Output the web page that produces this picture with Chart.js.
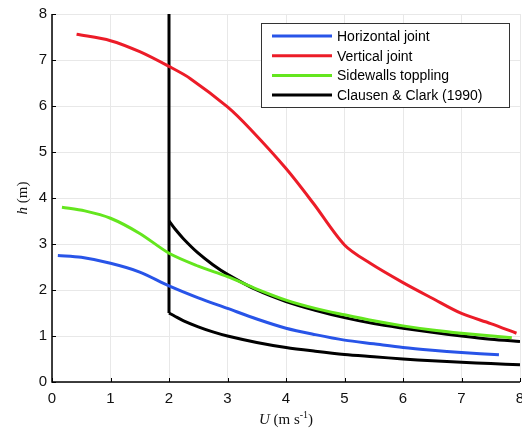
<!DOCTYPE html>
<html>
<head>
<meta charset="utf-8">
<script src="https://cdn.jsdelivr.net/npm/chart.js@4.4.1/dist/chart.umd.min.js"></script>
<style>
  html, body { margin: 0; padding: 0; background: #fff; }
  #wrap { width: 522px; height: 434px; position: relative; }
</style>
</head>
<body>
<div id="wrap"><canvas id="hChart" width="522" height="434"></canvas></div>
<script>
// values: U (m s-1) and h (m)
const horizU = [0.1, 0.5, 1.0, 1.5, 2.0, 2.5, 3.0, 3.5, 4.0, 4.5, 5.0, 5.5, 6.0, 6.5, 7.0, 7.64];
const horizH = [2.75, 2.71, 2.58, 2.39, 2.09, 1.83, 1.60, 1.37, 1.17, 1.03, 0.91, 0.83, 0.75, 0.69, 0.64, 0.59];

const vertU = [0.42, 1.0, 1.5, 2.0, 2.36, 3.0, 3.38, 4.0, 4.47, 5.0, 5.44, 6.0, 6.5, 7.0, 7.5, 7.94];
const vertH = [7.56, 7.42, 7.18, 6.86, 6.60, 5.98, 5.51, 4.64, 3.88, 2.98, 2.58, 2.16, 1.82, 1.49, 1.27, 1.06];

const wallU = [0.17, 0.56, 1.0, 1.5, 2.0, 2.5, 3.0, 3.5, 4.0, 4.5, 5.0, 5.5, 6.0, 6.5, 7.0, 7.86];
const wallH = [3.80, 3.72, 3.56, 3.23, 2.80, 2.52, 2.29, 2.02, 1.78, 1.60, 1.46, 1.33, 1.22, 1.13, 1.06, 0.96];

const ccUpperU = [2.0, 2.1, 2.25, 2.5, 2.75, 3.0, 3.5, 4.0, 4.5, 5.0, 5.5, 6.0, 6.5, 7.0, 7.5, 8.0];
const ccUpperH = [3.50, 3.33, 3.11, 2.80, 2.55, 2.34, 2.00, 1.75, 1.56, 1.40, 1.27, 1.17, 1.08, 1.00, 0.93, 0.88];
const ccLowerU = [2.0, 2.1, 2.25, 2.5, 2.75, 3.0, 3.5, 4.0, 4.5, 5.0, 5.5, 6.0, 6.5, 7.0, 7.5, 8.0];
const ccLowerH = [1.50, 1.43, 1.33, 1.20, 1.09, 1.00, 0.86, 0.75, 0.67, 0.60, 0.55, 0.50, 0.46, 0.43, 0.40, 0.375];
const ccWallU = [2.0, 2.0];
const ccWallH = [8.0, 1.5];

const xTicks = [0, 1, 2, 3, 4, 5, 6, 7, 8];
const yTicks = [0, 1, 2, 3, 4, 5, 6, 7, 8];

function pts(us, hs) {
    return us.map((u, i) => ({ x: u, y: hs[i] }));
}

function series(label, us, hs, color, inLegend) {
    return {
        label: label,
        data: pts(us, hs),
        borderColor: color,
        backgroundColor: color,
        borderWidth: 3,
        pointRadius: 0,
        tension: 0.3,
        fill: false,
        inLegend: inLegend
    };
}

// legend box, axis titles and inward tick marks, drawn the MATLAB way
const figureExtras = {
    id: 'figureExtras',
    afterDraw(chart) {
        const ctx = chart.ctx;
        const area = chart.chartArea;
        const xs = chart.scales.x, ys = chart.scales.y;

        // axis lines + inward ticks
        ctx.save();
        ctx.strokeStyle = '#000';
        ctx.lineWidth = 1.5;
        ctx.beginPath();
        ctx.moveTo(area.left, area.top);
        ctx.lineTo(area.left, area.bottom);
        ctx.lineTo(area.right, area.bottom);
        ctx.stroke();
        ctx.lineWidth = 1;
        ctx.beginPath();
        xTicks.forEach(v => {
            const px = Math.round(xs.getPixelForValue(v)) + 0.5;
            ctx.moveTo(px, area.bottom);
            ctx.lineTo(px, area.bottom - 4);
        });
        yTicks.forEach(v => {
            const py = Math.round(ys.getPixelForValue(v)) + 0.5;
            ctx.moveTo(area.left, py);
            ctx.lineTo(area.left + 4, py);
        });
        ctx.stroke();

        // x title: U (m s-1)
        ctx.fillStyle = '#111';
        ctx.textBaseline = 'alphabetic';
        const serif = '"Liberation Serif", "DejaVu Serif", serif';
        const parts = [
            { t: 'U', f: 'italic 15px ' + serif, dy: 0 },
            { t: ' (m s', f: '15px ' + serif, dy: 0 },
            { t: '-1', f: '10px ' + serif, dy: -6 },
            { t: ')', f: '15px ' + serif, dy: 0 }
        ];
        let total = 0;
        parts.forEach(p => { ctx.font = p.f; p.w = ctx.measureText(p.t).width; total += p.w; });
        let cx = 286 - total / 2;
        const baseY = 424;
        parts.forEach(p => {
            ctx.font = p.f;
            ctx.fillText(p.t, cx, baseY + p.dy);
            cx += p.w;
        });

        // y title: h (m)
        ctx.save();
        ctx.translate(27, 198);
        ctx.rotate(-Math.PI / 2);
        const yParts = [
            { t: 'h', f: 'italic 15px ' + serif },
            { t: ' (m)', f: '15px ' + serif }
        ];
        let yTotal = 0;
        yParts.forEach(p => { ctx.font = p.f; p.w = ctx.measureText(p.t).width; yTotal += p.w; });
        let yx = -yTotal / 2;
        yParts.forEach(p => {
            ctx.font = p.f;
            ctx.fillText(p.t, yx, 0);
            yx += p.w;
        });
        ctx.restore();

        // legend box
        const entries = chart.data.datasets.filter(d => d.inLegend);
        const bx = 261, by = 23, bw = 248, bh = 84;
        ctx.fillStyle = '#fff';
        ctx.fillRect(bx, by, bw, bh);
        ctx.strokeStyle = '#333';
        ctx.lineWidth = 1;
        ctx.strokeRect(bx + 0.5, by + 0.5, bw, bh);
        ctx.font = '14px "Liberation Sans", Arial, sans-serif';
        ctx.textBaseline = 'middle';
        entries.forEach((d, i) => {
            const ry = 36 + i * 19.7;
            ctx.strokeStyle = d.borderColor;
            ctx.lineWidth = 3;
            ctx.beginPath();
            ctx.moveTo(272, ry);
            ctx.lineTo(332, ry);
            ctx.stroke();
            ctx.fillStyle = '#000';
            ctx.fillText(d.label, 337, ry + 1);
        });
        ctx.restore();
    }
};

function createChart() {
    const ctx = document.getElementById('hChart').getContext('2d');
    new Chart(ctx, {
        type: 'line',
        data: {
            datasets: [
                series('Horizontal joint', horizU, horizH, 'rgb(40, 84, 232)', true),
                series('Vertical joint', vertU, vertH, 'rgb(236, 28, 40)', true),
                series('Sidewalls toppling', wallU, wallH, 'rgb(100, 230, 30)', true),
                series('Clausen & Clark (1990)', ccWallU, ccWallH, '#000', true),
                series('Clausen & Clark (1990)', ccUpperU, ccUpperH, '#000', false),
                series('Clausen & Clark (1990)', ccLowerU, ccLowerH, '#000', false)
            ]
        },
        options: {
            responsive: false,
            animation: false,
            layout: { padding: { top: 14, right: 2, left: 0, bottom: 0 } },
            scales: {
                x: {
                    type: 'linear',
                    min: 0,
                    max: 8,
                    afterFit: s => { s.height = 52; s.paddingLeft = 0; s.paddingRight = 0; },
                    afterBuildTicks: s => { s.ticks = xTicks.map(v => ({ value: v })); },
                    border: { display: false },
                    grid: { color: '#e8e8e8', lineWidth: 1, drawTicks: false },
                    ticks: {
                        padding: 8,
                        color: '#111',
                        font: { family: '"Liberation Sans", Arial, sans-serif', size: 15 }
                    }
                },
                y: {
                    type: 'linear',
                    min: 0,
                    max: 8,
                    afterFit: s => { s.width = 52; s.paddingTop = 0; s.paddingBottom = 0; },
                    afterBuildTicks: s => { s.ticks = yTicks.map(v => ({ value: v })); },
                    border: { display: false },
                    grid: { color: '#e8e8e8', lineWidth: 1, drawTicks: false },
                    ticks: {
                        padding: 5,
                        color: '#111',
                        font: { family: '"Liberation Sans", Arial, sans-serif', size: 15 }
                    }
                }
            },
            plugins: {
                legend: { display: false },
                tooltip: { enabled: false }
            }
        },
        plugins: [figureExtras]
    });
}

document.addEventListener('DOMContentLoaded', function() {
    createChart();
});
</script>
</body>
</html>
